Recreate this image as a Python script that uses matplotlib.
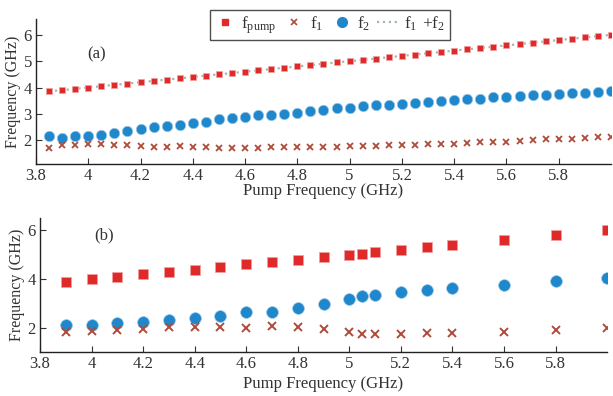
import numpy as np
import matplotlib.pyplot as plt
from matplotlib.lines import Line2D

plt.rcParams['font.family'] = ['Liberation Serif', 'DejaVu Serif']
plt.rcParams['mathtext.fontset'] = 'custom'
plt.rcParams['mathtext.rm'] = 'Liberation Serif'

# panel (a): dense sweep
pump_a = [3.85, 3.90, 3.95, 4.00, 4.05, 4.10, 4.15, 4.20, 4.25, 4.30, 4.35,
          4.40, 4.45, 4.50, 4.55, 4.60, 4.65, 4.70, 4.75, 4.80, 4.85, 4.90,
          4.95, 5.00, 5.05, 5.10, 5.15, 5.20, 5.25, 5.30, 5.35, 5.40, 5.45,
          5.50, 5.55, 5.60, 5.65, 5.70, 5.75, 5.80, 5.85, 5.90, 5.95, 6.00]
fpump_a = [3.86, 3.90, 3.95, 4.00, 4.05, 4.10, 4.15, 4.20, 4.25, 4.30, 4.35,
           4.40, 4.45, 4.50, 4.55, 4.60, 4.65, 4.70, 4.75, 4.80, 4.85, 4.90,
           4.95, 5.00, 5.05, 5.10, 5.15, 5.20, 5.25, 5.30, 5.35, 5.40, 5.45,
           5.50, 5.55, 5.60, 5.65, 5.70, 5.75, 5.80, 5.85, 5.90, 5.95, 6.00]
f2_a = [2.15, 2.10, 2.15, 2.15, 2.20, 2.29, 2.34, 2.41, 2.50, 2.55, 2.58,
        2.66, 2.71, 2.79, 2.84, 2.89, 2.94, 2.95, 3.00, 3.05, 3.10, 3.16,
        3.21, 3.23, 3.28, 3.32, 3.35, 3.38, 3.42, 3.45, 3.50, 3.54, 3.56,
        3.57, 3.63, 3.65, 3.68, 3.71, 3.71, 3.76, 3.79, 3.80, 3.84, 3.87]
f1_a = [1.71, 1.80, 1.80, 1.85, 1.85, 1.81, 1.81, 1.79, 1.75, 1.75, 1.77,
        1.74, 1.74, 1.71, 1.71, 1.71, 1.71, 1.75, 1.75, 1.75, 1.75, 1.74,
        1.74, 1.77, 1.77, 1.78, 1.80, 1.82, 1.83, 1.85, 1.85, 1.86, 1.89,
        1.93, 1.92, 1.95, 1.97, 1.99, 2.04, 2.04, 2.06, 2.10, 2.11, 2.13]

# panel (b): measured points
pump_b = [3.9, 4.0, 4.1, 4.2, 4.3, 4.4, 4.5, 4.6, 4.7, 4.8, 4.9, 5.0, 5.05,
          5.1, 5.2, 5.3, 5.4, 5.6, 5.8, 6.0]
fpump_b = [3.89, 4.00, 4.10, 4.20, 4.30, 4.39, 4.50, 4.62, 4.69, 4.80, 4.90,
           4.99, 5.03, 5.10, 5.20, 5.31, 5.40, 5.61, 5.81, 6.01]
f2_b = [2.10, 2.12, 2.19, 2.23, 2.30, 2.38, 2.49, 2.63, 2.63, 2.82, 2.97,
        3.17, 3.32, 3.36, 3.46, 3.54, 3.62, 3.76, 3.90, 4.03]
f1_b = [1.81, 1.86, 1.92, 1.96, 2.01, 2.01, 2.03, 1.97, 2.08, 2.01, 1.93,
        1.84, 1.73, 1.73, 1.76, 1.77, 1.78, 1.84, 1.92, 1.97]

xticks = [3.8, 4, 4.2, 4.4, 4.6, 4.8, 5, 5.2, 5.4, 5.6, 5.8]
xticklabels = ['3.8', '4', '4.2', '4.4', '4.6', '4.8', '5', '5.2', '5.4', '5.6', '5.8']

red = '#e02a2a'
brown = '#b04a3a'
blue = '#1f87cb'
dotc = '#a5b8ad'

fig = plt.figure(figsize=(6.13, 3.96), dpi=100)
ax1 = fig.add_axes([0.0587, 0.586, 0.938, 0.366])
ax2 = fig.add_axes([0.0653, 0.111, 0.925, 0.338])

def style(ax, ylim, yticks, xpad):
    ax.set_xlim(3.8, 6.0)
    ax.set_ylim(*ylim)
    ax.set_xticks(xticks)
    ax.set_xticklabels(xticklabels)
    ax.set_yticks(yticks)
    for s in ['top', 'right']:
        ax.spines[s].set_visible(False)
    for s in ['left', 'bottom']:
        ax.spines[s].set_color('#222222')
        ax.spines[s].set_linewidth(1.0)
    ax.tick_params(direction='in', length=4, colors='#333333', labelsize=12, pad=3)
    ax.set_xlabel('Pump Frequency (GHz)', fontsize=12, color='#333333', labelpad=xpad)
    ax.set_ylabel('Frequency (GHz)', fontsize=11.5, color='#333333', labelpad=2)
    ax.set_facecolor('none')

# (a)
ax1.plot(pump_a, fpump_a, ':', color=dotc, lw=1.6, zorder=1)
ax1.plot(pump_a, fpump_a, 's', color=red, ms=5, mec='#f0a0a0', mew=0.5, zorder=3)
ax1.plot(pump_a, f2_a, 'o', color=blue, ms=7.5, mec='#9cc8e6', mew=0.5, zorder=3)
ax1.plot(pump_a, f1_a, 'x', color=brown, ms=5, mew=1.3, zorder=3)
style(ax1, (1.1, 6.6), [2, 3, 4, 5, 6], -0.5)
ax1.text(4.03, 5.25, '(a)', fontsize=12, color='#333333', ha='center', va='center')

# (b)
ax2.plot(pump_b, fpump_b, 's', color=red, ms=7.5, mec='#f0a0a0', mew=0.5, zorder=3)
ax2.plot(pump_b, f2_b, 'o', color=blue, ms=8.5, mec='#9cc8e6', mew=0.5, zorder=3)
ax2.plot(pump_b, f1_b, 'x', color=brown, ms=6, mew=1.4, zorder=3)
style(ax2, (1.0, 6.5), [2, 4, 6], 3)
ax2.text(4.05, 5.8, '(b)', fontsize=12, color='#333333', ha='center', va='center')

handles = [
    Line2D([], [], ls='none', marker='s', color=red, ms=5),
    Line2D([], [], ls='none', marker='x', color=brown, ms=5, mew=1.2),
    Line2D([], [], ls='none', marker='o', color=blue, ms=7),
    Line2D([], [], ls=':', color=dotc, lw=1.6),
]
labels = [r'$\mathregular{f_{pump}}$', r'$\mathregular{f_1}$',
          r'$\mathregular{f_2}$', r'$\mathregular{f_1\ {+}f_2}$']
leg = fig.legend(handles, labels, loc='center', bbox_to_anchor=(0.538, 0.937),
                 ncol=4, frameon=True, fancybox=False, fontsize=12.5,
                 handlelength=1.3, handletextpad=0.25, columnspacing=0.4,
                 borderpad=0.25, labelcolor='#333333')
leg.get_frame().set_edgecolor('#222222')
leg.get_frame().set_linewidth(1.0)

fig.savefig('out.png', dpi=100)
